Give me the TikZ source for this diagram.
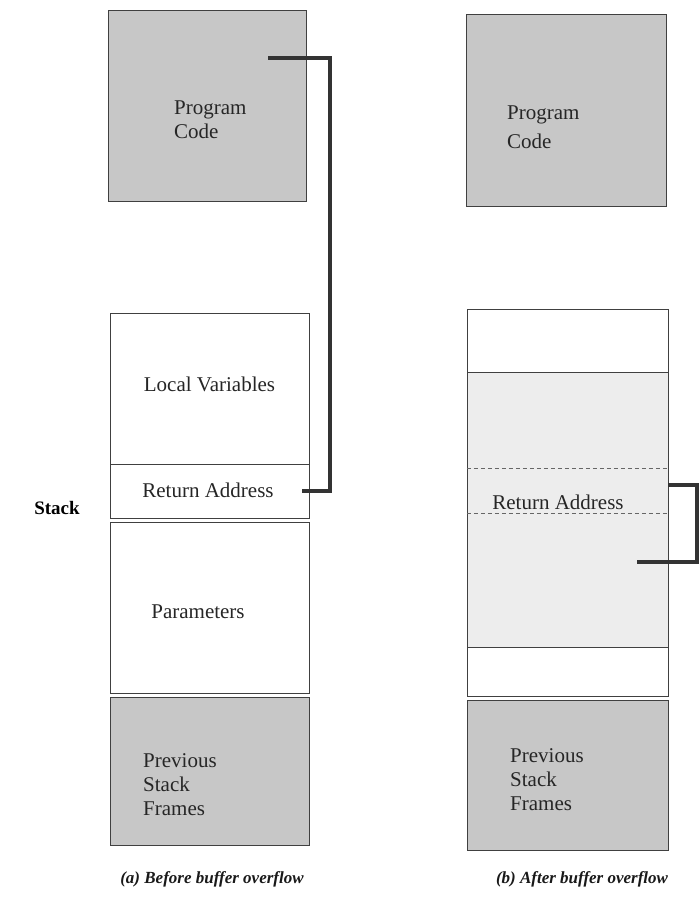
\documentclass[tikz,border=0pt]{standalone}
\usepackage{fontspec}
\setmainfont{Liberation Serif}
\begin{document}
\begin{tikzpicture}[x=1pt,y=-1pt,
  box/.style={draw=black!75, line width=0.9pt, inner sep=0pt, outer sep=0pt, minimum width=199pt},
  graybox/.style={box, fill=black!22},
  whitebox/.style={box, fill=white},
  lbl/.style={font=\fontsize{21}{24}\selectfont, text=black!85, align=left, inner sep=0pt},
  captext/.style={font=\fontsize{17}{21}\selectfont\bfseries\itshape, text=black!90, inner sep=0pt},
  link/.style={line width=3.6pt, draw=black!80},
  dashsep/.style={draw=black!60, line width=0.7pt, dash pattern=on 4pt off 3pt}]
\useasboundingbox (0,0) rectangle (698,909);

% ---------- (a) before ----------
\node[graybox, minimum width=198pt, minimum height=191pt] (pcA) at (207,105.5) {};
\node[lbl, anchor=west] (pcAt) at (174,120) {Program\\Code};

\node[whitebox, minimum height=151pt] (lvA) at (209.5,388.5) {};
\node[lbl] (lvAt) at (209.5,384) {Local Variables};
\node[whitebox, minimum height=54pt] (raA) at (209.5,491) {};
\node[lbl] (raAt) at (208,490) {Return Address};
\node[whitebox, minimum height=171pt] (parA) at (209.5,607.5) {};
\node[lbl] (parAt) at (198,612) {Parameters};
\node[graybox, minimum height=148pt] (prA) at (209.5,771) {};
\node[lbl, anchor=west] (prAt) at (143,785) {Previous\\Stack\\Frames};

\coordinate (srcA) at (268,58);
\draw[link] (srcA) -- ++(62,0) |- ([xshift=-7pt]raA.east);

\node[captext] (capA) at (212,879) {(a) Before buffer overflow};

% ---------- Stack label ----------
\node[font=\fontsize{19}{23}\selectfont\bfseries, inner sep=0pt] (stk) at (57,508) {Stack};

% ---------- (b) after ----------
\node[graybox, minimum width=200pt, minimum height=192pt] (pcB) at (566,110) {};
\node[lbl, anchor=west] (pcBt) at (507,127) {Program\\[5pt]Code};

\node[whitebox, minimum width=201pt, minimum height=63pt] (topB) at (567.5,340.5) {};
\node[box, fill=black!7, minimum width=201pt, minimum height=275pt] (ovB) at (567.5,509.5) {};
\node[inner sep=0pt, minimum width=201pt, minimum height=44pt] (raB) at (567.5,491) {};
\draw[dashsep] (raB.north west) -- (raB.north east);
\draw[dashsep] (raB.south west) -- (raB.south east);
\node[lbl] (raBt) at (558,502) {Return Address};
\node[whitebox, minimum width=201pt, minimum height=49pt] (botB) at (567.5,671.5) {};
\node[graybox, minimum width=201pt, minimum height=150pt] (prB) at (567.5,775) {};
\node[lbl, anchor=west] (prBt) at (510,780) {Previous\\Stack\\Frames};

\coordinate (tgtB) at (637,562);
\draw[link] ([yshift=6pt]raB.east) -- (697,485) |- (tgtB);

\node[captext] (capB) at (582,879) {(b) After buffer overflow};
\end{tikzpicture}
\end{document}
